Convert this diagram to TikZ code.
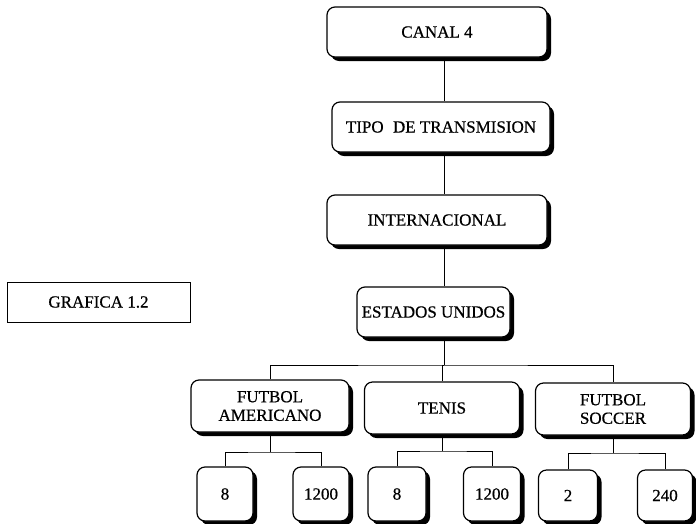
\documentclass[tikz,border=0pt]{standalone}
\usepackage{fontspec}
\setmainfont[FakeBold=0.6]{Liberation Serif}
\usetikzlibrary{shadows}
\begin{document}
\begin{tikzpicture}[x=1pt,y=-1pt,
  box/.style={draw, line width=1.2pt, rounded corners=8pt, fill=white,
    drop shadow={shadow xshift=4pt, shadow yshift=-4pt, opacity=1, fill=black},
    inner sep=0pt, align=center, font=\fontsize{17}{18.5}\selectfont},
  plain/.style={draw, line width=0.8pt, fill=white, inner sep=0pt,
    font=\fontsize{17}{18.5}\selectfont},
  conn/.style={draw, line width=0.9pt}]
\useasboundingbox (0,0) rectangle (696,523);

\node[box, minimum width=220pt, minimum height=50pt] (c4) at (437,32) {CANAL 4};
\node[box, minimum width=218pt, minimum height=50pt] (tp) at (441,127) {TIPO\hspace{0.3em} DE TRANSMISION};
\node[box, minimum width=220pt, minimum height=50pt] (in) at (437,220) {INTERNACIONAL};
\node[box, minimum width=153pt, minimum height=50pt] (es) at (433.5,312) {ESTADOS UNIDOS};

\node[box, minimum width=158pt, minimum height=52pt] (fa) at (270,406) {FUTBOL\\AMERICANO};
\node[box, minimum width=155pt, minimum height=52pt] (te) at (442,408) {TENIS};
\node[box, minimum width=155pt, minimum height=52pt] (fs) at (613,409) {FUTBOL\\SOCCER};

\node[box, minimum width=56pt, minimum height=54pt] (b1) at (225,494) {8};
\node[box, minimum width=56pt, minimum height=54pt] (b2) at (321,494) {1200};
\node[box, minimum width=58pt, minimum height=54pt] (b3) at (397,494) {8};
\node[box, minimum width=57pt, minimum height=54pt] (b4) at (492,494) {1200};
\node[box, minimum width=59pt, minimum height=51pt] (b5) at (568,495.5) {2};
\node[box, minimum width=55pt, minimum height=51pt] (b6) at (665,495.5) {240};

\node[plain, minimum width=183pt, minimum height=40pt] (gr) at (98.5,302) {GRAFICA 1.2};

\coordinate (tx) at (444,0);
\coordinate (bus) at (0,365);
\draw[conn] (c4.south -| tx) -- (tp.north -| tx);
\draw[conn] (tp.south -| tx) -- (in.north -| tx);
\draw[conn] (in.south -| tx) -- (es.north -| tx);
\draw[conn] (es.south -| tx) -- (tx |- bus);
\draw[conn] (fa.north) |- (tx |- bus) -| (fs.north);
\draw[conn] (tx |- bus) -| (te.north);

\coordinate (faj) at (fa.south |- 0,452);
\coordinate (tej) at (te.south |- 0,451);
\coordinate (fsj) at (fs.south |- 0,453);
\draw[conn] (fa.south) -- (faj);
\draw[conn] (b1.north) |- (faj) -| (b2.north);
\draw[conn] (te.south) -- (tej);
\draw[conn] (b3.north) |- (tej) -| (b4.north);
\draw[conn] (fs.south) -- (fsj);
\draw[conn] (b5.north) |- (fsj) -| (b6.north);
\end{tikzpicture}
\end{document}
